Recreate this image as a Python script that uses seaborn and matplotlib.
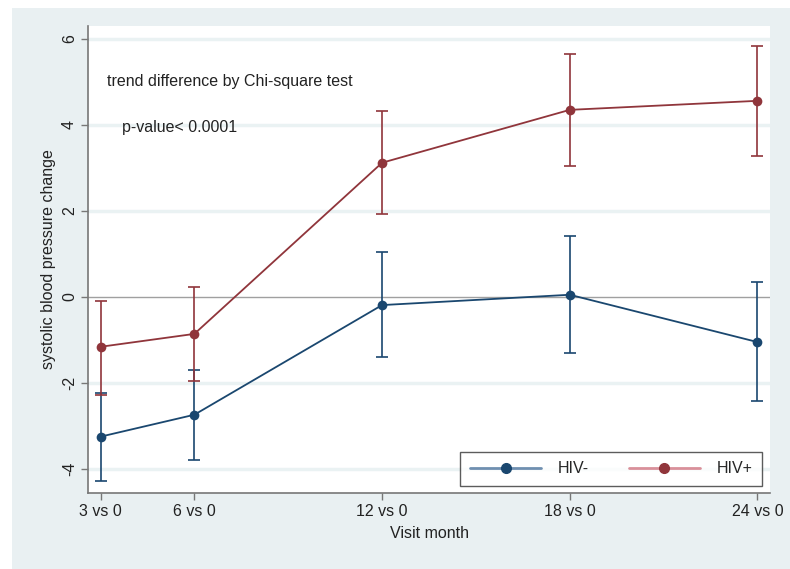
import matplotlib
matplotlib.use("Agg")
import matplotlib.pyplot as plt
import seaborn as sns
import pandas as pd
import numpy as np
from matplotlib.patches import Rectangle
from matplotlib.lines import Line2D

months = [3, 6, 12, 18, 24]
tick_labels = ["3 vs 0", "6 vs 0", "12 vs 0", "18 vs 0", "24 vs 0"]
hiv_neg_mean = [-3.25, -2.74, -0.19, 0.05, -1.05]
hiv_neg_low = [-4.27, -3.79, -1.40, -1.30, -2.42]
hiv_neg_high = [-2.23, -1.69, 1.04, 1.42, 0.35]
hiv_pos_mean = [-1.16, -0.86, 3.12, 4.35, 4.56]
hiv_pos_low = [-2.27, -1.95, 1.92, 3.05, 3.28]
hiv_pos_high = [-0.10, 0.24, 4.33, 5.66, 5.83]

sns.set_theme(style="white")
plt.rcParams['font.family'] = ['Liberation Sans', 'DejaVu Sans']

navy = "#1a476f"
maroon = "#90353b"
bg = "#e9f0f2"

df = pd.DataFrame({
    "month": months * 2,
    "change": hiv_neg_mean + hiv_pos_mean,
    "group": ["HIV-"] * 5 + ["HIV+"] * 5,
})

fig = plt.figure(figsize=(7.9, 5.69), dpi=100)
fig.patch.set_facecolor("white")
fig.patches.append(Rectangle((12 / 790, 0), 1, 1 - 8 / 569, transform=fig.transFigure,
                             facecolor=bg, edgecolor="none", zorder=-10))
ax = fig.add_axes([88 / 790, 1 - 493 / 569, (770 - 88) / 790, (493 - 26) / 569])
ax.set_zorder(1)
ax.set_facecolor("white")

ax.set_xlim(2.6, 24.4)
ax.set_ylim(-4.56, 6.3)

for yv in [-4, -2, 2, 4, 6]:
    ax.axhline(yv, color="#eaf2f3", lw=2.5, zorder=0.5)
ax.axhline(0, color="#a0a0a0", lw=1.0, zorder=0.6)

for means, lo, hi, col in [(hiv_neg_mean, hiv_neg_low, hiv_neg_high, navy),
                           (hiv_pos_mean, hiv_pos_low, hiv_pos_high, maroon)]:
    m = np.array(means)
    ax.errorbar(months, m, yerr=[m - np.array(lo), np.array(hi) - m], fmt="none",
                ecolor=col, elinewidth=1.2, capsize=4, capthick=1.2, zorder=2)

sns.lineplot(data=df, x="month", y="change", hue="group", palette=[navy, maroon],
             marker="o", markersize=7, markeredgewidth=0, linewidth=1.3, ax=ax,
             legend=False, zorder=3)

ax.set_xticks(months)
ax.set_xticklabels(tick_labels, fontsize=11.5, color="#222222")
ax.set_yticks([-4, -2, 0, 2, 4, 6])
ax.set_yticklabels(["-4", "-2", "0", "2", "4", "6"], rotation=90, va="center",
                   fontsize=11.5, color="#222222")
ax.tick_params(axis="both", length=5, width=1, color="#777777", direction="out",
               bottom=True, left=True, pad=3)
ax.set_xlabel("Visit month", fontsize=11.5, color="#222222", labelpad=5)
ax.set_ylabel("systolic blood pressure change", fontsize=11.5, color="#222222", labelpad=4)

for s in ["top", "right"]:
    ax.spines[s].set_visible(False)
for s in ["left", "bottom"]:
    ax.spines[s].set_color("#777777")
    ax.spines[s].set_linewidth(1.2)

ax.text(3.2, 5.0, "trend difference by Chi-square test", fontsize=11.5,
        color="#222222", va="center")
ax.text(3.7, 3.95, "p-value< 0.0001", fontsize=11.5, color="#222222", va="center")

handles = [Line2D([], [], color="#6f8fb0", lw=2, marker="o", markersize=7,
                  markerfacecolor=navy, markeredgecolor=navy),
           Line2D([], [], color="#d9909a", lw=2, marker="o", markersize=7,
                  markerfacecolor=maroon, markeredgecolor=maroon)]
leg = ax.legend(handles, ["HIV-", "HIV+"], ncol=2, loc="lower right",
                bbox_to_anchor=(0.988, 0.015), borderaxespad=0, frameon=True,
                fancybox=False, fontsize=11.5, handlelength=4.5, columnspacing=2.5,
                borderpad=0.6, handletextpad=1.0)
leg.get_frame().set_edgecolor("#333333")
leg.get_frame().set_linewidth(1.0)

fig.savefig("out.png", dpi=100)
